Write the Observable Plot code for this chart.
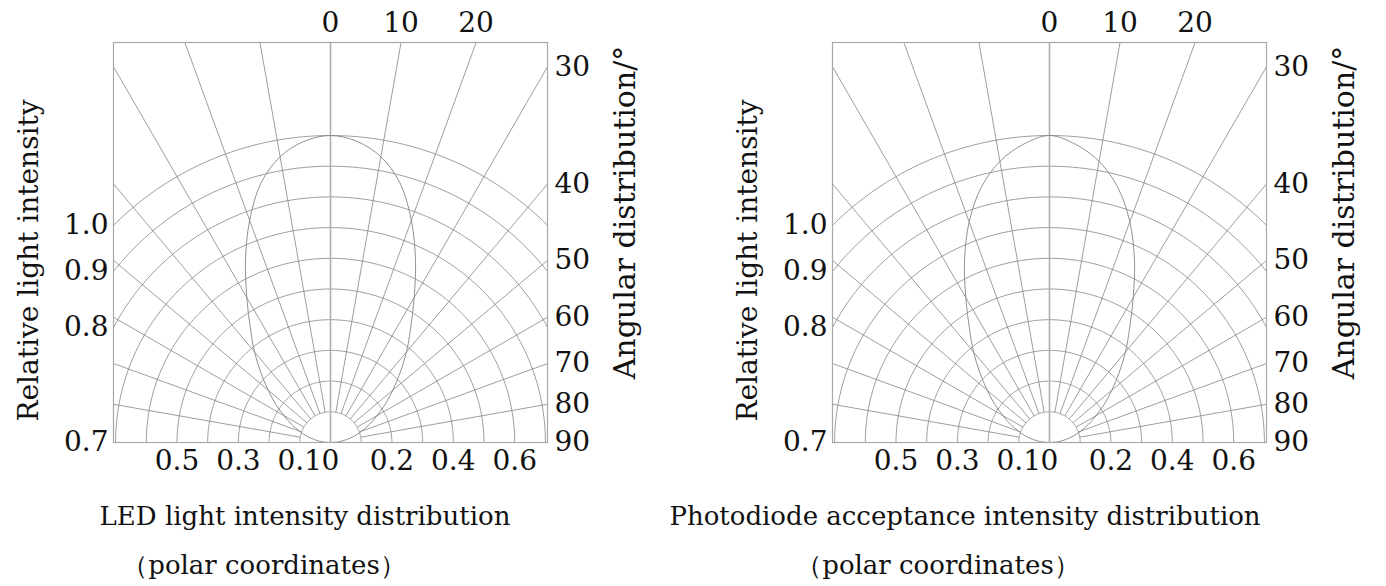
<!DOCTYPE html>
<html><head><meta charset="utf-8">
<script src="https://cdn.jsdelivr.net/npm/d3@7"></script>
<script src="https://cdn.jsdelivr.net/npm/@observablehq/plot@0.6"></script>
<style>
body{margin:0;background:#fff}
#wrap{position:relative;width:1386px;height:586px;font-family:"DejaVu Serif",serif;color:#111;overflow:hidden}
.panel{position:absolute;top:0}
.t{position:absolute;white-space:nowrap;transform:translateX(-50%);font-size:26px;line-height:1}
</style></head><body><div id="wrap"></div><script>
// ---- data ----
const spokeAngles = [0, 10, 20, 30, 40, 50, 60, 70, 80, 90];          // degrees from axis
const ringRadii = [0.1, 0.2, 0.3, 0.4, 0.5, 0.6, 0.7, 0.8, 0.9, 1.0];  // relative intensity rings
const topLabels = [0, 10, 20];
const rightLabels = [30, 40, 50, 60, 70, 80, 90];
const leftLabels = [1.0, 0.9, 0.8, 0.7];
const bottomLeftLabels = [0.5, 0.3, 0.1, 0];
const bottomRightLabels = [0.2, 0.4, 0.6];
const lobeAngles = [0, 5, 10, 15, 20, 25, 30, 35, 40, 45, 50, 55, 60, 65, 70, 75, 80, 85, 90];
const ledIntensity = [1.0, 0.985, 0.945, 0.875, 0.77, 0.655, 0.545, 0.455, 0.385, 0.32, 0.265, 0.218, 0.175, 0.14, 0.108, 0.08, 0.052, 0.026, 0];
const pdIntensity  = [1.0, 0.975, 0.93, 0.86, 0.765, 0.655, 0.545, 0.455, 0.385, 0.32, 0.265, 0.218, 0.175, 0.14, 0.108, 0.08, 0.052, 0.026, 0];
const titles = ["LED light intensity distribution", "Photodiode acceptance intensity distribution"];
const subtitle = "（polar coordinates）";
const yTitle = "Relative light intensity";
const aTitle = "Angular distribution/°";

// ---- geometry of the frame (in relative-intensity units) ----
const HALF_W = 0.7068, TOP_H = 1.303;
const rad = a => a * Math.PI / 180;
const px = d => d.r * Math.sin(rad(d.a));
const py = d => d.r * Math.cos(rad(d.a));
const FONT = "DejaVu Serif, serif";

function makePanel(intensity, mL, mR) {
  const W = HALF_W, H = TOP_H;
  const ringPts = ringRadii.flatMap(r => d3.range(-90, 90.01, 1).map(a => ({r, a})));
  const lobe = [
    ...lobeAngles.map((a, i) => ({a: -a, r: intensity[i]})).reverse(),
    ...lobeAngles.map((a, i) => ({a, r: intensity[i]})).slice(1)
  ];
  const spokes = spokeAngles.filter(a => a > 0).flatMap(a => [{a, r0: 0.1}, {a: -a, r0: 0.1}]);
  const grid = "#858585";
  const svg = Plot.plot({
    width: 693, height: 492,
    marginLeft: mL, marginRight: mR, marginTop: 42, marginBottom: 50,
    x: {domain: [-W, W], axis: null},
    y: {domain: [0, H], axis: null},
    style: {fontFamily: FONT, background: "transparent", overflow: "visible", color: "#111"},
    marks: [
      Plot.line(ringPts, {x: px, y: py, z: "r", stroke: grid, strokeWidth: 0.8, clip: true}),
      Plot.link(spokes, {
        x1: d => d.r0 * Math.sin(rad(d.a)), y1: d => d.r0 * Math.cos(rad(d.a)),
        x2: d => 3 * Math.sin(rad(d.a)), y2: d => 3 * Math.cos(rad(d.a)),
        stroke: grid, strokeWidth: 0.8, clip: true
      }),
      Plot.ruleX([0], {y1: 0, y2: H, stroke: "#b0b0b0", strokeWidth: 1.6}),
      Plot.line(lobe, {x: px, y: py, stroke: grid, strokeWidth: 0.9, curve: "catmull-rom"}),
      Plot.frame({stroke: "#a8a8a8", strokeWidth: 1.2}),
      Plot.text(topLabels, {x: d => H * Math.tan(rad(d)), y: H, text: d => String(d), dy: -19, fontSize: 28, fill: "#111"}),
      Plot.text(rightLabels, {x: W, y: d => W / Math.tan(rad(d)), text: d => String(d), dx: 7, textAnchor: "start", fontSize: 28, fill: "#111"}),
      Plot.text(leftLabels, {x: -W, y: d => Math.sqrt(Math.max(0, d * d - W * W)), text: d => d.toFixed(1), dx: -5, textAnchor: "end", fontSize: 28, fill: "#111"}),
      Plot.text(bottomLeftLabels, {x: d => -d, y: 0, text: d => String(d), dy: 19, fontSize: 28, fill: "#111"}),
      Plot.text(bottomRightLabels, {x: d => d, y: 0, text: d => String(d), dy: 19, fontSize: 28, fill: "#111"}),
      Plot.text([yTitle], {frameAnchor: "left", textAnchor: "middle", text: d => d, dx: -84, dy: 18, rotate: -90, fontSize: 28, fill: "#111"}),
      Plot.text([aTitle], {frameAnchor: "right", textAnchor: "middle", text: d => d, dx: 78, dy: -30, rotate: -90, fontSize: 30, fill: "#111"})
    ]
  });
  return svg;
}

const wrap = document.getElementById("wrap");
const panels = [
  {data: ledIntensity, left: 0, mL: 113, mR: 146, tx: 305, sx: 264},
  {data: pdIntensity, left: 693, mL: 139, mR: 120, tx: 965, sx: 938}
];
panels.forEach((p, i) => {
  const svg = makePanel(p.data, p.mL, p.mR);
  svg.classList.add("panel");
  svg.style.left = p.left + "px";
  wrap.appendChild(svg);
  const t = document.createElement("div");
  t.className = "t"; t.textContent = titles[i];
  t.style.left = p.tx + "px"; t.style.top = "503px";
  wrap.appendChild(t);
  const s = document.createElement("div");
  s.className = "t"; s.textContent = subtitle;
  s.style.left = p.sx + "px"; s.style.top = "552px";
  wrap.appendChild(s);
});
</script></body></html>
